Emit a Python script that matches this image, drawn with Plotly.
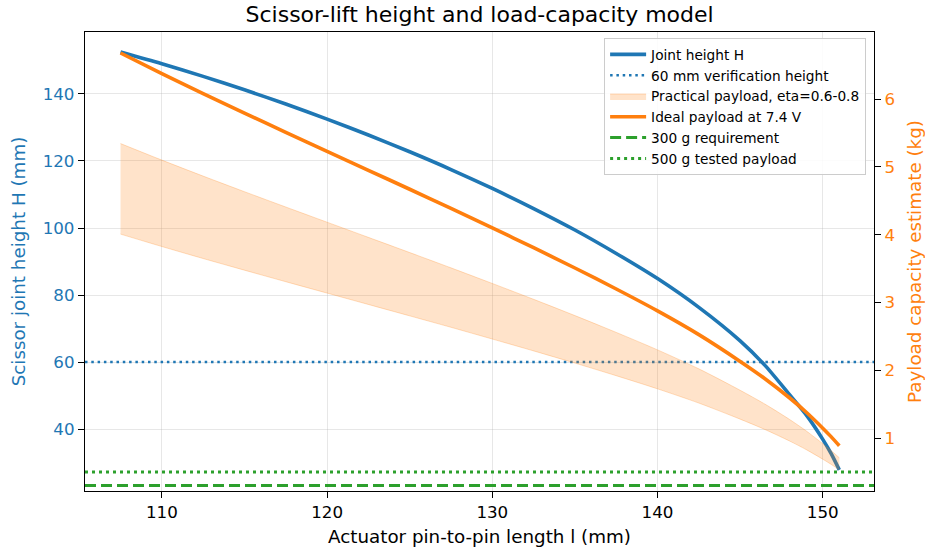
import plotly.graph_objects as go

# ---- data ----
l_mm = [107.5, 110, 112.5, 115, 117.5, 120, 122.5, 125, 127.5, 130, 132.5, 135,
        137.5, 140, 142.5, 145, 146.5, 148, 149, 150, 150.5, 151]
joint_h = [152.5, 149.0, 145.25, 141.25, 137.0, 132.5, 127.75, 122.75, 117.45, 111.8, 105.8, 99.4,
           92.4, 84.9, 76.3, 66.3, 59.0, 50.2, 44.2, 36.9, 32.7, 27.8]
ideal_kg = [6.68, 6.375, 6.08, 5.793, 5.51, 5.23, 4.95, 4.67, 4.388, 4.10, 3.808, 3.508,
            3.198, 2.875, 2.525, 2.13, 1.875, 1.59, 1.38, 1.145, 1.02, 0.885]
practical_low = [4.008, 3.825, 3.648, 3.476, 3.306, 3.138, 2.97, 2.802, 2.633, 2.46, 2.285, 2.105,
                 1.919, 1.725, 1.515, 1.278, 1.125, 0.954, 0.828, 0.687, 0.612, 0.531]
practical_high = [5.344, 5.10, 4.864, 4.634, 4.408, 4.184, 3.96, 3.736, 3.510, 3.28, 3.046, 2.806,
                  2.558, 2.30, 2.02, 1.704, 1.50, 1.272, 1.104, 0.916, 0.816, 0.708]
verify_height_mm = 60
req_300g_kg = 0.3
tested_500g_kg = 0.5

x_range = [105.35, 153.1]
y_left_range = [21.5, 158.5]
y_right_range = [0.218, 6.99]
x_ticks = [110, 120, 130, 140, 150]
y_left_ticks = [40, 60, 80, 100, 120, 140]
y_right_ticks = [1, 2, 3, 4, 5, 6]

BLUE = "#1f77b4"
ORANGE = "#ff7f0e"
GREEN = "#2ca02c"
FONT = "DejaVu Sans"
GRID = "rgba(176,176,176,0.3)"
TICK_SIZE = 16.7
LABEL_SIZE = 18.3

fig = go.Figure()

fig.add_trace(go.Scatter(x=l_mm, y=joint_h, mode="lines", name="Joint height H",
                         line=dict(color=BLUE, width=3.6, shape="spline", smoothing=0.8),
                         legendgroup="a"))
fig.add_trace(go.Scatter(x=x_range, y=[verify_height_mm] * 2, mode="lines",
                         name="60 mm verification height",
                         line=dict(color=BLUE, width=2.5, dash="2.5px,3.8px"),
                         legendgroup="b"))
fig.add_trace(go.Scatter(x=l_mm, y=practical_low, mode="lines", yaxis="y2",
                         line=dict(color="rgba(255,127,14,0.25)", width=1, shape="spline", smoothing=0.8),
                         showlegend=False, hoverinfo="skip", legendgroup="c"))
fig.add_trace(go.Scatter(x=l_mm, y=practical_high, mode="lines", yaxis="y2",
                         name="Practical payload, eta=0.6-0.8",
                         fill="tonexty", fillcolor="rgba(255,127,14,0.22)",
                         line=dict(color="rgba(255,127,14,0.25)", width=1, shape="spline", smoothing=0.8),
                         legendgroup="c"))
fig.add_trace(go.Scatter(x=l_mm, y=ideal_kg, mode="lines", yaxis="y2",
                         name="Ideal payload at 7.4 V",
                         line=dict(color=ORANGE, width=3.6, shape="spline", smoothing=0.8),
                         legendgroup="d"))
fig.add_trace(go.Scatter(x=x_range, y=[req_300g_kg] * 2, mode="lines", yaxis="y2",
                         name="300 g requirement",
                         line=dict(color=GREEN, width=3, dash="11px,5px"),
                         legendgroup="e"))
fig.add_trace(go.Scatter(x=x_range, y=[tested_500g_kg] * 2, mode="lines", yaxis="y2",
                         name="500 g tested payload",
                         line=dict(color=GREEN, width=3, dash="3px,4px"),
                         legendgroup="f"))

axis_common = dict(showline=True, linecolor="black", linewidth=1.3,
                   ticks="outside", ticklen=6, tickwidth=1.3, tickcolor="black",
                   zeroline=False, automargin=False)

fig.update_layout(
    width=925, height=550,
    margin=dict(l=85, r=51, t=32, b=59),
    paper_bgcolor="white", plot_bgcolor="white",
    font=dict(family=FONT, size=TICK_SIZE, color="black"),
    title=dict(text="Scissor-lift height and load-capacity model",
               x=0.5185, xanchor="center", y=0.9745, yanchor="middle",
               font=dict(family=FONT, size=22, color="black")),
    xaxis=dict(range=x_range, tickvals=x_ticks, showgrid=True, gridcolor=GRID, gridwidth=1,
               mirror=True, tickfont=dict(size=TICK_SIZE), **axis_common,
               title=dict(text="Actuator pin-to-pin length l (mm)", standoff=8,
                          font=dict(size=LABEL_SIZE))),
    yaxis=dict(range=y_left_range, tickvals=y_left_ticks, showgrid=True, gridcolor=GRID, gridwidth=1,
               mirror=True, tickfont=dict(color=BLUE, size=TICK_SIZE), **axis_common,
               title=dict(text="Scissor joint height H (mm)", standoff=12,
                          font=dict(color=BLUE, size=LABEL_SIZE))),
    yaxis2=dict(range=y_right_range, tickvals=y_right_ticks, overlaying="y", side="right",
                showgrid=False, tickfont=dict(color=ORANGE, size=TICK_SIZE), **axis_common,
                title=dict(text="Payload capacity estimate (kg)", standoff=15,
                           font=dict(color=ORANGE, size=LABEL_SIZE))),
    legend=dict(x=0.99, y=0.987, xanchor="right", yanchor="top",
                traceorder="normal",
                bgcolor="rgba(255,255,255,0.85)", bordercolor="#cccccc", borderwidth=1,
                font=dict(family=FONT, size=13.7, color="black"),
                tracegroupgap=1, itemwidth=36),
    showlegend=True,
)

# remove the browser's default 8px body margin so the figure sits at the page origin
fig.write_html("out.html",
               config={"displayModeBar": False},
               post_script="document.body.style.margin='0px';document.body.style.overflow='hidden';")
